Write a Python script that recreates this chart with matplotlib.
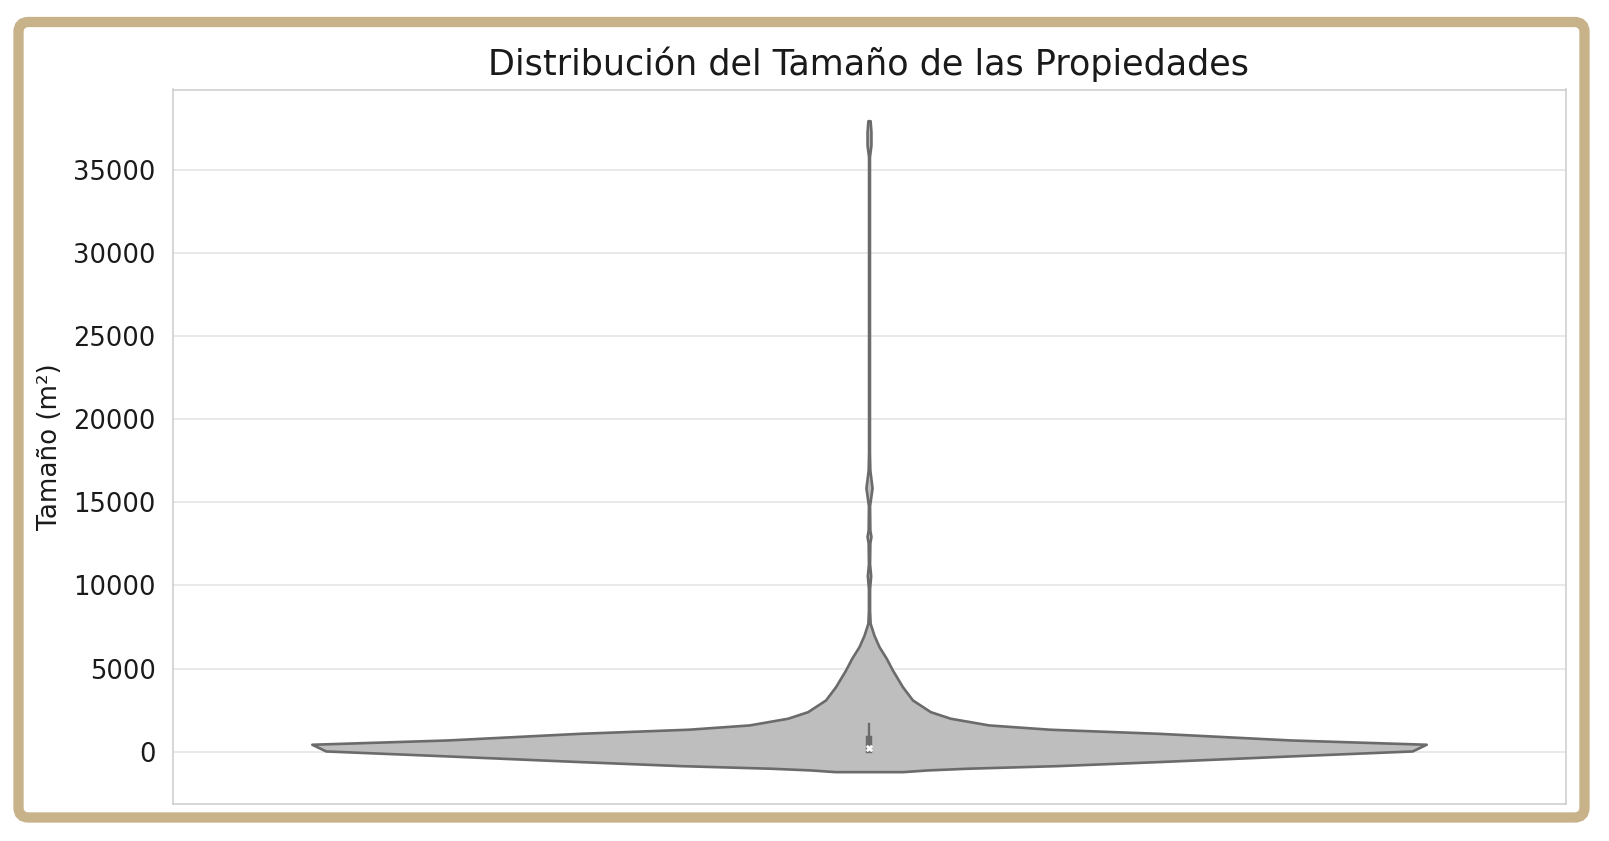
import matplotlib
matplotlib.use("Agg")
import matplotlib.pyplot as plt
import numpy as np
from matplotlib.patches import FancyBboxPatch
from matplotlib.transforms import IdentityTransform

# ---- data ----
title = "Distribución del Tamaño de las Propiedades"
ylabel = "Tamaño (m²)"
yticks = [0, 5000, 10000, 15000, 20000, 25000, 30000, 35000]

# violin outline: property size (m²) and relative density (max = 1)
size_levels = [-1203, -1100, -1000, -842, -602, -259, 42, 445, 704, 1107, 1348,
               1607, 2010, 2407, 3111, 3911, 4916, 5620, 6318, 7000, 7726,
               8500, 9800, 10600, 11300, 12560, 12950, 13340, 14800, 15868,
               16950, 18000, 35800, 36500, 37300, 37968]
density = [0.061, 0.105, 0.175, 0.338, 0.517, 0.756, 0.975, 1.000, 0.756, 0.517, 0.325,
           0.215, 0.146, 0.110, 0.078, 0.060, 0.042, 0.031, 0.018, 0.009, 0.002,
           0.001, 0.001, 0.003, 0.001, 0.0015, 0.0035, 0.0015, 0.001, 0.0055,
           0.0015, 0.0008, 0.0008, 0.0035, 0.0035, 0.002]

# inner box summary (m²)
whisker_low = 10
q1 = 70
median = 200
q3 = 740
whisker_high = 1650

# ---- style ----
fill_color = "#bebebe"
edge_color = "#6b6b6b"
text_color = "#1a1a1a"
frame_color = "#c8b28a"

W, H = 1609, 841
fig = plt.figure(figsize=(W / 100, H / 100), dpi=100)
fig.patch.set_facecolor("white")

# decorative rounded frame (pixel coords)
frame = FancyBboxPatch((18.5, 23.5), 1584.5 - 18.5, 819 - 23.5,
                       boxstyle="round,pad=0,rounding_size=10",
                       transform=IdentityTransform(), facecolor="none",
                       edgecolor=frame_color, linewidth=7.4, zorder=0)
fig.patches.append(frame)

ax = fig.add_axes([172.5 / W, 1 - 803.5 / H, (1565.5 - 172.5) / W, (803.5 - 89.5) / H])
ax.set_facecolor("white")

sizes = np.array(size_levels, dtype=float)
dens = np.array(density, dtype=float)
half = 0.4 * dens / dens.max()
ax.fill_betweenx(sizes, -half, half, facecolor=fill_color, edgecolor=edge_color,
                 linewidth=1.9, zorder=2)

# inner box
ax.plot([0, 0], [whisker_low, whisker_high], color=edge_color, linewidth=1.7, zorder=3)
ax.plot([0, 0], [q1, q3], color=edge_color, linewidth=4.6, zorder=3,
        solid_capstyle="projecting")
ax.scatter([0], [median], s=24, marker="X", color="white", edgecolor="white",
           linewidth=0.3, zorder=4)

ax.set_xlim(-0.5, 0.5)
ax.set_ylim(-3120, 39845)
ax.set_xticks([])
ax.set_yticks(yticks)
ax.set_yticklabels([str(t) for t in yticks])
ax.tick_params(axis="y", length=0, pad=12, labelsize=18.5, labelcolor=text_color)
ax.set_axisbelow(True)
ax.yaxis.grid(True, color="#e3e3e3", linewidth=1.1)
ax.xaxis.grid(False)
for s in ax.spines.values():
    s.set_color("#cccccc")
    s.set_linewidth(1.1)

ax.set_ylabel(ylabel, fontsize=18.8, color=text_color)
ax.yaxis.set_label_coords((63 - 172.5) / (1565.5 - 172.5), 0.5)

fig.text(869 / W, 1 - 64.6 / H, title, ha="center", va="center",
         fontsize=25.2, color=text_color)

fig.savefig("out.png", dpi=100, facecolor="white")
